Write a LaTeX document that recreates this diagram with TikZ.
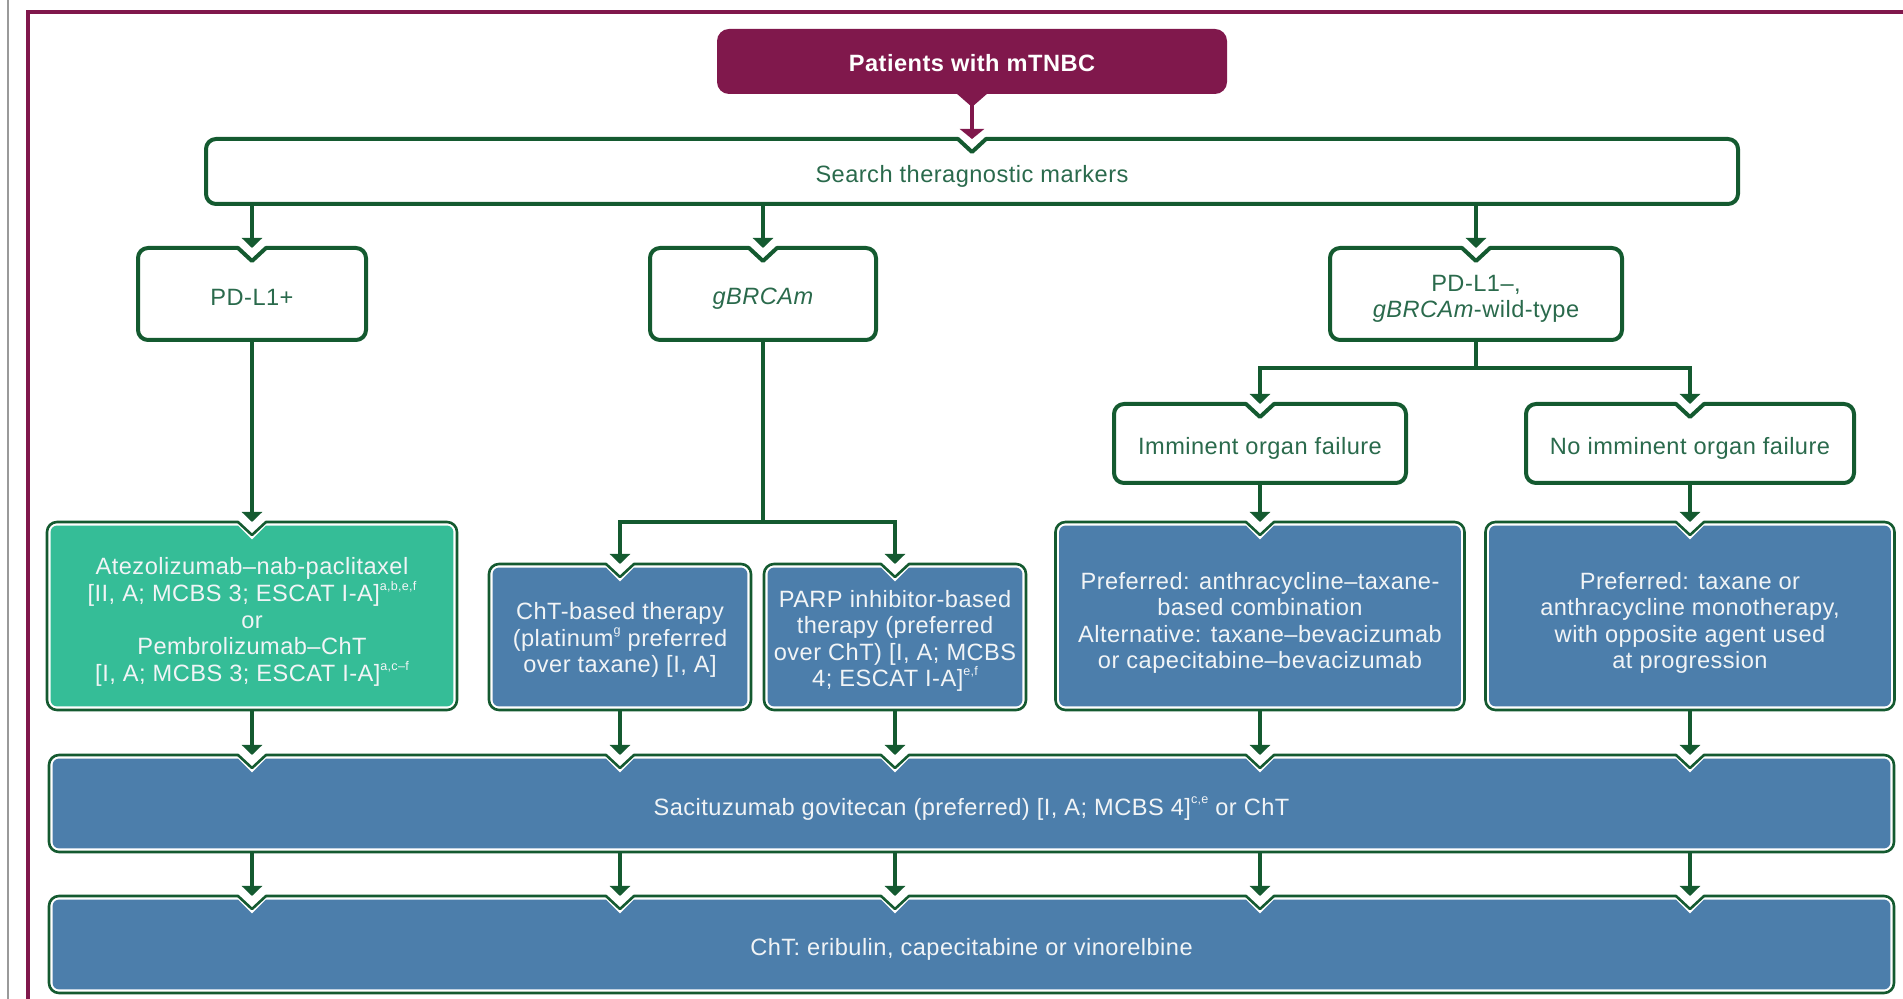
\documentclass[tikz,border=0pt]{standalone}
\usepackage{fontspec}
\setmainfont{Liberation Sans}[LetterSpace=2.0]
\usetikzlibrary{calc,arrows.meta}
\pgfdeclarelayer{background}
\pgfsetlayers{background,main}

\definecolor{plum}{HTML}{80184C}
\definecolor{edgegreen}{HTML}{145A30}
\definecolor{tealfill}{HTML}{35BD97}
\definecolor{bluefill}{HTML}{4C7EAB}
\definecolor{labelgreen}{HTML}{2A6A4C}
\definecolor{lighttext}{HTML}{F1F4F6}
\definecolor{sidegray}{HTML}{9A9A9A}

% corner radius, notch half width, notch depth (in picture units)
\def\crad{10}\def\nhalf{14}\def\ndepth{13}

% small raised reference letters
\newcommand\refs[1]{\raisebox{0.9ex}{\fontsize{6.3}{7}\selectfont #1}}

% outline of a box with rounded corners and V notches in its top edge
% #1 node, #2 inset, #3 list of points whose x gives a notch
\newcommand\boxpath[3]{%
  ($(#1.north west)+(#2,-\crad)$)
  arc[start angle=180,end angle=90,radius={(\crad-#2)*0.5pt}]
  \foreach \q in {#3}{%
    -- ($(\q |- #1.north)+(-\nhalf,-#2)$)
    -- ($(\q |- #1.north)+(0,{-\ndepth-1.3*#2})$)
    -- ($(\q |- #1.north)+(\nhalf,-#2)$)}
  -- ($(#1.north east)+(-\crad,-#2)$)
  arc[start angle=90,end angle=0,radius={(\crad-#2)*0.5pt}]
  -- ($(#1.south east)+(-#2,\crad)$)
  arc[start angle=0,end angle=-90,radius={(\crad-#2)*0.5pt}]
  -- ($(#1.south west)+(\crad,#2)$)
  arc[start angle=270,end angle=180,radius={(\crad-#2)*0.5pt}]
  -- cycle}
\newcommand\plainbox[2]{%
  \filldraw[fill=white,draw=edgegreen,line width=2pt,line join=round] \boxpath{#1}{0}{#2};}
\newcommand\tintbox[3]{%
  \filldraw[fill=white,draw=edgegreen,line width=1.3pt,line join=round] \boxpath{#1}{0}{#3};
  \fill[#2] \boxpath{#1}{3.6}{#3};}

\tikzset{
  boxsize/.style 2 args={inner sep=0pt, outer sep=0pt,
    minimum width={#1*0.5pt}, minimum height={#2*0.5pt}},
  boxlabel/.style={inner sep=0pt, outer sep=0pt, align=center,
    font=\fontsize{11.8}{13.3}\selectfont},
  onwhite/.style={boxlabel, text=labelgreen},
  oncolour/.style={boxlabel, text=lighttext},
  flow/.style={draw=edgegreen, line width=2pt, -{Triangle[width=10pt,length=5pt]}},
  trunk/.style={draw=edgegreen, line width=2pt},
}

\begin{document}
\begin{tikzpicture}[x=0.5pt,y=0.5pt]
\useasboundingbox (0,0) rectangle (1903,-999);

% page rules
\begin{scope}
  \clip (0,0) rectangle (1903,-999);
  \draw[sidegray, line width=1pt] (8,0) -- (8,-999);
  \draw[plum, line width=1.7pt] (28,-1010) -- (28,-12) -- (1915,-12);
\end{scope}

% boxes
\node[boxsize={510}{65}]  (patients) at (972,-61.5) {};
\node[boxsize={1532}{65}] (search) at (972,-171.5) {};
\node[boxsize={228}{92}]  (pdl1p) at (252,-294) {};
\node[boxsize={226}{92}]  (gbrca) at (763,-294) {};
\node[boxsize={292}{92}]  (wild) at (1476,-294) {};
\node[boxsize={292}{79}]  (imm) at (1260,-443.5) {};
\node[boxsize={328}{79}]  (noimm) at (1690,-443.5) {};
\node[boxsize={410}{188}] (atez) at (252,-616) {};
\node[boxsize={262}{146}] (cht) at (620,-637) {};
\node[boxsize={262}{146}] (parp) at (895,-637) {};
\node[boxsize={409}{188}] (pref1) at (1260,-616) {};
\node[boxsize={409}{188}] (pref2) at (1690,-616) {};
\node[boxsize={1845}{97}] (saci) at (971.5,-803.5) {};
\node[boxsize={1845}{97}] (final) at (971.5,-944.5) {};

% labels
\node[boxlabel, text=white, font=\fontsize{11.8}{13.3}\selectfont\bfseries] (patients-t)
  at ([yshift=-1pt]patients.center) {Patients with mTNBC};
\node[onwhite] (search-t) at ([yshift=-2.5pt]search.center) {Search theragnostic markers};
\node[onwhite] (pdl1p-t) at ([yshift=-1.5pt]pdl1p.center) {PD-L1+};
\node[onwhite] (gbrca-t) at ([yshift=-2.5pt]gbrca.center) {\itshape gBRCAm};
\node[onwhite] (wild-t) at ([yshift=-2.5pt]wild.center) {PD-L1--,\\\textit{gBRCAm}-wild-type};
\node[onwhite] (imm-t) at ([yshift=-2.5pt]imm.center) {Imminent organ failure};
\node[onwhite] (noimm-t) at ([yshift=-2.5pt]noimm.center) {No imminent organ failure};
\node[oncolour] (atez-t) at ([yshift=-3pt]atez.center)
  {Atezolizumab--nab-paclitaxel\\{[}II, A; MCBS 3; ESCAT I-A]\refs{a,b,e,f}\\or\\Pembrolizumab--ChT\\{[}I, A; MCBS 3; ESCAT I-A]\refs{a,c--f}};
\node[oncolour] (cht-t) at ([yshift=-1.5pt]cht.center)
  {ChT-based therapy\\(platinum\refs{g} preferred\\over taxane) [I, A]};
\node[oncolour] (parp-t) at ([yshift=-2pt]parp.center)
  {PARP inhibitor-based\\therapy (preferred\\over ChT) [I, A; MCBS\\4; ESCAT I-A]\refs{e,f}};
\node[oncolour] (pref1-t) at ([yshift=-3.5pt]pref1.center)
  {Preferred: anthracycline--taxane-\\based combination\\Alternative: taxane--bevacizumab\\or capecitabine--bevacizumab};
\node[oncolour] (pref2-t) at ([yshift=-3.5pt]pref2.center)
  {Preferred: taxane or\\anthracycline monotherapy,\\with opposite agent used\\at progression};
\node[oncolour] (saci-t) at ([yshift=-2.5pt]saci.center)
  {Sacituzumab govitecan (preferred) [I, A; MCBS 4]\refs{c,e} or ChT};
\node[oncolour] (final-t) at ([yshift=-2.5pt]final.center)
  {ChT: eribulin, capecitabine or vinorelbine};

% box outlines behind the labels
\begin{pgfonlayer}{background}
  \fill[plum] ($(patients.south)+(-16,1)$) -- ($(patients.south)+(16,1)$) -- ($(patients.south)+(0,-13)$) -- cycle;
  \fill[plum, rounded corners=6pt] (patients.south west) rectangle (patients.north east);
  \plainbox{search}{patients.south}
  \plainbox{pdl1p}{pdl1p.north}
  \plainbox{gbrca}{gbrca.north}
  \plainbox{wild}{wild.north}
  \plainbox{imm}{imm.north}
  \plainbox{noimm}{noimm.north}
  \tintbox{atez}{tealfill}{atez.north}
  \tintbox{cht}{bluefill}{cht.north}
  \tintbox{parp}{bluefill}{parp.north}
  \tintbox{pref1}{bluefill}{pref1.north}
  \tintbox{pref2}{bluefill}{pref2.north}
  \tintbox{saci}{bluefill}{atez.south,cht.south,parp.south,pref1.south,pref2.south}
  \tintbox{final}{bluefill}{atez.south,cht.south,parp.south,pref1.south,pref2.south}
\end{pgfonlayer}

% connectors
\draw[plum, line width=2.4pt, -{Triangle[width=12pt,length=5pt]}] ($(patients.south)+(0,-6)$) -- (search.north);

\draw[flow] (search.south -| pdl1p.north) -- (pdl1p.north);
\draw[flow] (search.south -| gbrca.north) -- (gbrca.north);
\draw[flow] (search.south -| wild.north) -- (wild.north);

\coordinate (jw) at ($(wild.south)+(0,-28)$);
\draw[trunk] (wild.south) -- (jw);
\draw[flow] (jw) -| (imm.north);
\draw[flow] (jw) -| (noimm.north);

\draw[flow] (pdl1p.south) -- (atez.north);
\coordinate (jg) at (gbrca.south |- atez.north);
\draw[trunk] (gbrca.south) -- (jg);
\draw[flow] (jg) -| (cht.north);
\draw[flow] (jg) -| (parp.north);
\draw[flow] (imm.south) -- (pref1.north);
\draw[flow] (noimm.south) -- (pref2.north);

\foreach \n in {atez,cht,parp,pref1,pref2}{
  \draw[flow] (\n.south) -- (\n.south |- saci.north);
  \draw[flow] (\n.south |- saci.south) -- (\n.south |- final.north);
}
\end{tikzpicture}
\end{document}
